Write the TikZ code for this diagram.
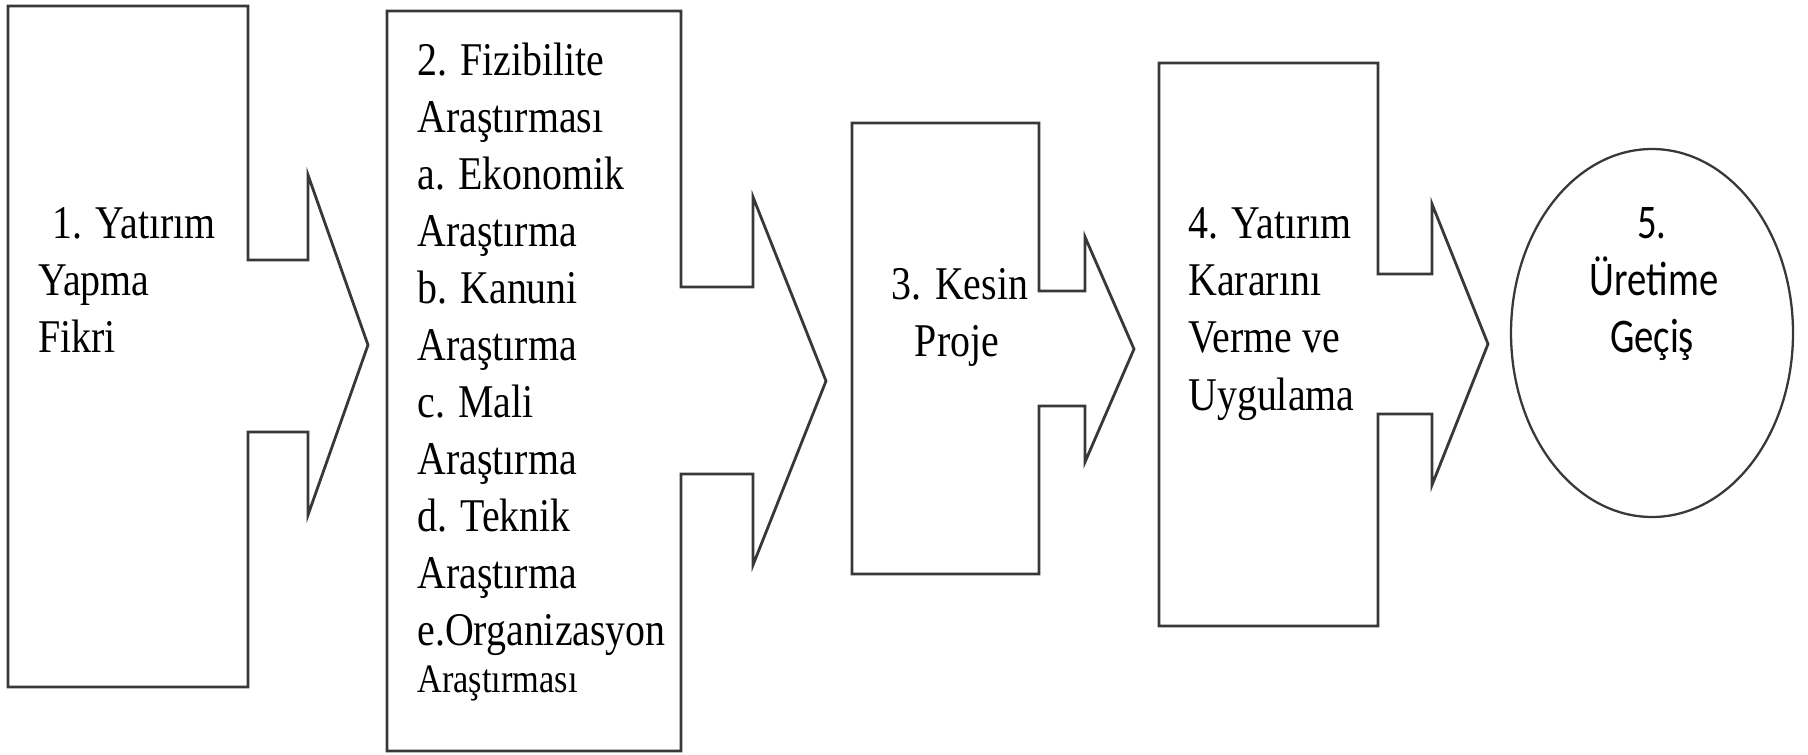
\documentclass[tikz,border=0pt]{standalone}
\usepackage{fontspec}
\setmainfont{Liberation Serif}[FakeStretch=0.85]
\newfontfamily\ovalfont{Carlito}[FakeStretch=0.8]
\begin{document}
\begin{tikzpicture}[x=0.02cm,y=-0.02cm,
  outline/.style={draw=black!78,line width=1.6pt,line join=miter},
  txt/.style={anchor=base west,inner sep=0pt,font=\fontsize{26.7}{32}\selectfont},
  smalltxt/.style={txt,font=\fontsize{23}{28}\selectfont},
  ctxt/.style={txt,anchor=base},
  ovaltxt/.style={anchor=base,inner sep=0pt,font=\ovalfont\fontsize{27.5}{33}\selectfont}]
\useasboundingbox (0,0) rectangle (1808,754);

% step 1: box with arrow
\draw[outline] (8,6) -- (248,6) -- (248,260) -- (308,260) -- (308,175) -- (368,345)
  -- (308,515) -- (308,432) -- (248,432) -- (248,687) -- (8,687) -- cycle;
% step 2
\draw[outline] (387,11) -- (681,11) -- (681,287) -- (753,287) -- (753,197) -- (826,381)
  -- (753,565) -- (753,474) -- (681,474) -- (681,751) -- (387,751) -- cycle;
% step 3
\draw[outline] (852,123) -- (1039,123) -- (1039,291) -- (1085,291) -- (1085,237) -- (1134,349)
  -- (1085,462) -- (1085,406) -- (1039,406) -- (1039,574) -- (852,574) -- cycle;
% step 4
\draw[outline] (1159,63) -- (1378,63) -- (1378,274) -- (1432,274) -- (1432,204) -- (1488,344)
  -- (1432,485) -- (1432,414) -- (1378,414) -- (1378,626) -- (1159,626) -- cycle;
% step 5: ellipse
\draw[outline,line width=1.3pt] (1652,333) ellipse [x radius=141,y radius=184];

% texts of step 1
\node[txt] (s1a) at (52,238) {1. Yatırım};
\node[txt] (s1b) at (38,295) {Yapma};
\node[txt] (s1c) at (38,352) {Fikri};

% texts of step 2
\foreach \t [count=\i from 0] in {2. Fizibilite,Araştırması,a. Ekonomik,Araştırma,
  b. Kanuni,Araştırma,c. Mali,Araştırma,d. Teknik,Araştırma,e.Organizasyon}
  \node[txt] (s2-\i) at (417,75+57*\i) {\t};
\node[smalltxt] (s2-last) at (417,692) {Araştırması};

% texts of step 3
\node[ctxt] (s3a) at (960,299) {3. Kesin};
\node[ctxt] (s3b) at (957,356) {Proje};

% texts of step 4
\node[txt] (s4a) at (1188,238) {4. Yatırım};
\node[txt] (s4b) at (1188,295) {Kararını};
\node[txt] (s4c) at (1188,352) {Verme ve};
\node[txt] (s4d) at (1188,410) {Uygulama};

% texts of step 5
\node[ovaltxt] (s5a) at (1652,238) {5.};
\node[ovaltxt] (s5b) at (1654,295) {Üretime};
\node[ovaltxt] (s5c) at (1652,352) {Geçiş};
\end{tikzpicture}
\end{document}
